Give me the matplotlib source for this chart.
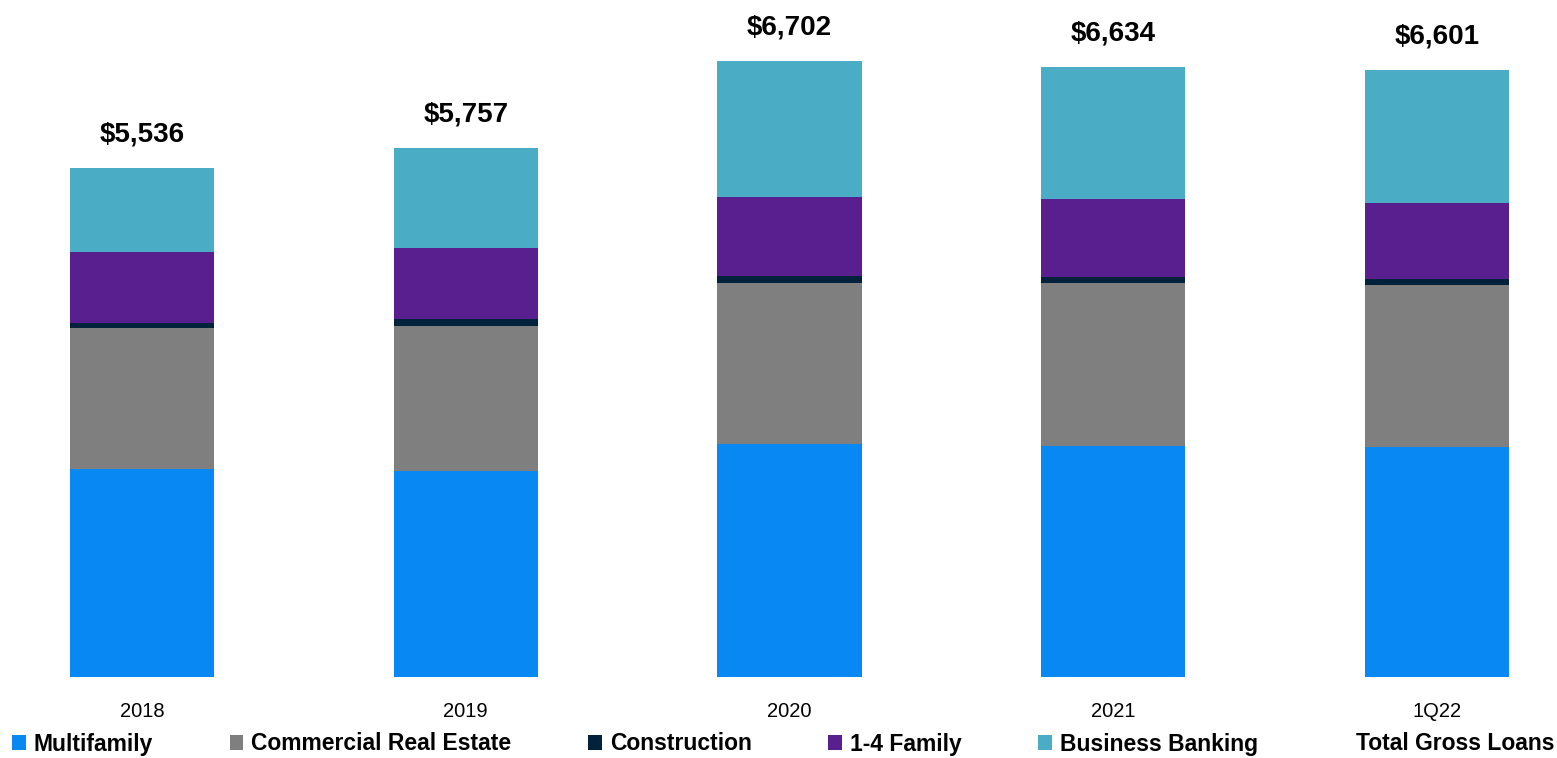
import matplotlib
matplotlib.use("Agg")
import matplotlib.pyplot as plt
from matplotlib.patches import Patch
from matplotlib.lines import Line2D
import numpy as np

plt.rcParams['font.family'] = ['Liberation Sans Narrow', 'Liberation Sans', 'DejaVu Sans']

categories = ["2018", "2019", "2020", "2021", "1Q22"]
multifamily = [2262, 2241, 2535, 2514, 2503]
commercial_re = [1537, 1578, 1755, 1774, 1766]
construction = [48, 73, 76, 69, 65]
one_four_family = [783, 779, 860, 849, 820]
business_banking = [906, 1086, 1476, 1428, 1447]
totals = [5536, 5757, 6702, 6634, 6601]
total_labels = ["$5,536", "$5,757", "$6,702", "$6,634", "$6,601"]

series = [
    ("Multifamily", multifamily, "#0788F2"),
    ("Commercial Real Estate", commercial_re, "#7F7F7F"),
    ("Construction", construction, "#00223A"),
    ("1-4 Family", one_four_family, "#5A1F8E"),
    ("Business Banking", business_banking, "#4BACC6"),
]

W, H = 1557, 758
fig = plt.figure(figsize=(W / 100, H / 100), dpi=100)
ax = fig.add_axes([0, (H - 677) / H, 1, 677 / H])

x = np.arange(len(categories))
bottom = np.zeros(len(categories))
handles = []
for name, vals, color in series:
    ax.bar(x, vals, bottom=bottom, width=0.445, color=color, edgecolor='none')
    bottom += np.array(vals)
    handles.append(Patch(facecolor=color, edgecolor='none', label=name))
handles.append(Line2D([], [], linestyle='none', label="Total Gross Loans"))

for xi, t, lab in zip(x, totals, total_labels):
    ax.annotate(lab, (xi, t), xytext=(0, 15), textcoords='offset points',
                ha='center', va='bottom', fontsize=20, fontweight='bold')

scale = 323.75
ax.set_xlim(-142 / scale, (W - 142) / scale)
ax.set_ylim(0, 677 / 0.0919)
ax.set_xticks(x)
ax.set_xticklabels(categories, fontsize=14.5)
ax.tick_params(axis='x', length=0, pad=18)
ax.set_yticks([])
for s in ax.spines.values():
    s.set_visible(False)

fig.legend(handles=handles, loc='center', ncol=6, mode='expand',
           bbox_to_anchor=(12 / W, 0, (W - 14) / W, 28 / H),
           frameon=False, prop={'weight': 'bold', 'size': 16.5},
           handlelength=0.6, handleheight=0.6, handletextpad=0.35,
           borderpad=0, borderaxespad=0, columnspacing=1.0)

fig.savefig("out.png", dpi=100)
